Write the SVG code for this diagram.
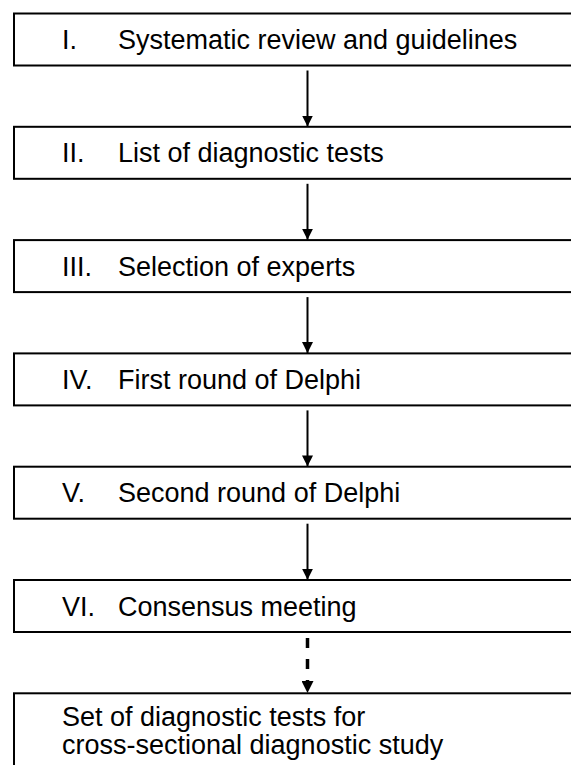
<svg xmlns="http://www.w3.org/2000/svg" width="571" height="765" viewBox="0 0 571 765">
<style>
.box{fill:#fff;stroke:#000;stroke-width:2}
.t{font-family:"Liberation Sans",Arial,sans-serif;font-size:27px;fill:#000}
.c{stroke:#000;stroke-width:2;fill:none}
.d{stroke-width:3.5;stroke-dasharray:10 11}
</style>
<defs>
<marker id="ah" markerWidth="11" markerHeight="11" refX="10" refY="5" orient="auto" markerUnits="userSpaceOnUse" viewBox="0 0 10 10">
<path d="M0,0 L10,5 L0,10 z" fill="#000"/>
</marker>
<marker id="ah2" markerWidth="12" markerHeight="12" refX="0" refY="5" orient="auto" markerUnits="userSpaceOnUse" viewBox="0 0 10 10">
<path d="M0,0 L10,5 L0,10 z" fill="#000"/>
</marker>
</defs>
<rect width="571" height="765" fill="#fff"/>
<g id="n1"><rect class="box" x="14" y="13.5" width="600" height="52"/><text class="t" x="62" y="49">I.</text><text class="t" x="118" y="49">Systematic review and guidelines</text></g>
<g id="n2"><rect class="box" x="14" y="126.8" width="600" height="52"/><text class="t" x="62" y="162.3">II.</text><text class="t" x="118" y="162.3">List of diagnostic tests</text></g>
<g id="n3"><rect class="box" x="14" y="240.1" width="600" height="52"/><text class="t" x="62" y="275.6">III.</text><text class="t" x="118" y="275.6">Selection of experts</text></g>
<g id="n4"><rect class="box" x="14" y="353.4" width="600" height="52"/><text class="t" x="62" y="388.9">IV.</text><text class="t" x="118" y="388.9">First round of Delphi</text></g>
<g id="n5"><rect class="box" x="14" y="466.7" width="600" height="52"/><text class="t" x="62" y="502.2">V.</text><text class="t" x="118" y="502.2">Second round of Delphi</text></g>
<g id="n6"><rect class="box" x="14" y="580" width="600" height="52"/><text class="t" x="62" y="615.5">VI.</text><text class="t" x="118" y="615.5">Consensus meeting</text></g>
<g id="n7"><rect class="box" x="14" y="693.3" width="600" height="120"/><text class="t" x="62" y="726">Set of diagnostic tests for</text><text class="t" x="62" y="754">cross-sectional diagnostic study</text></g>
<g id="connectors">
<line class="c" x1="307.5" y1="70.5" x2="307.5" y2="126.5" marker-end="url(#ah)"/>
<line class="c" x1="307.5" y1="183.8" x2="307.5" y2="239.8" marker-end="url(#ah)"/>
<line class="c" x1="307.5" y1="297.1" x2="307.5" y2="353.1" marker-end="url(#ah)"/>
<line class="c" x1="307.5" y1="410.4" x2="307.5" y2="466.4" marker-end="url(#ah)"/>
<line class="c" x1="307.5" y1="523.7" x2="307.5" y2="579.7" marker-end="url(#ah)"/>
<line class="c d" x1="307.5" y1="638" x2="307.5" y2="681" marker-end="url(#ah2)"/>
</g>
</svg>
